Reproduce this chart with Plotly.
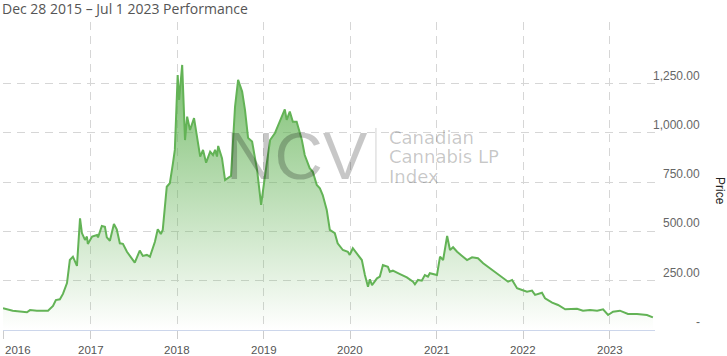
import plotly.graph_objects as go

title_text = "Dec 28 2015 – Jul 1 2023 Performance"

dates = [
    "2015-12-28", "2016-02-07", "2016-04-07", "2016-04-20", "2016-05-19", "2016-07-05", "2016-07-26",
    "2016-08-07", "2016-08-24", "2016-09-06", "2016-09-23", "2016-10-05", "2016-10-18", "2016-11-04",
    "2016-11-17", "2016-11-25", "2016-12-08", "2016-12-16", "2016-12-20",
    "2017-01-07", "2017-01-28", "2017-02-01", "2017-02-17", "2017-03-02", "2017-03-10", "2017-03-23",
    "2017-04-09", "2017-04-21", "2017-05-04", "2017-05-17", "2017-06-03", "2017-06-28", "2017-07-06",
    "2017-07-27", "2017-08-09", "2017-08-26", "2017-09-08", "2017-09-29", "2017-10-11", "2017-10-24",
    "2017-11-01", "2017-11-18", "2017-12-01", "2017-12-14", "2017-12-22",
    "2018-01-03", "2018-01-09", "2018-01-22", "2018-02-03", "2018-02-12", "2018-02-24", "2018-03-13",
    "2018-04-08", "2018-04-20", "2018-05-03", "2018-05-20", "2018-06-01", "2018-06-10", "2018-06-18",
    "2018-06-23", "2018-07-09", "2018-07-22", "2018-08-04", "2018-08-16", "2018-09-02", "2018-09-15",
    "2018-10-02", "2018-10-14", "2018-10-27", "2018-11-13", "2018-12-04", "2018-12-21",
    "2019-01-06", "2019-01-15", "2019-01-28", "2019-02-17", "2019-03-10", "2019-03-31", "2019-04-08",
    "2019-04-21", "2019-05-04", "2019-05-20", "2019-06-11", "2019-06-23", "2019-07-14", "2019-07-27",
    "2019-08-13", "2019-08-26", "2019-09-07", "2019-09-24", "2019-10-07", "2019-10-28", "2019-11-09",
    "2019-12-01", "2019-12-22", "2019-12-30",
    "2020-01-12", "2020-01-29", "2020-02-19", "2020-03-03", "2020-03-16", "2020-03-24", "2020-04-02",
    "2020-04-23", "2020-05-05", "2020-05-18", "2020-06-08", "2020-06-16", "2020-06-29", "2020-07-29",
    "2020-08-27", "2020-09-22", "2020-09-30", "2020-10-13", "2020-10-29", "2020-11-11", "2020-11-24",
    "2020-12-02", "2020-12-23",
    "2021-01-01", "2021-01-14", "2021-01-27", "2021-02-13", "2021-02-25", "2021-03-10", "2021-03-27",
    "2021-04-17", "2021-05-08", "2021-05-29", "2021-06-23", "2021-07-15", "2021-08-13", "2021-09-12",
    "2021-10-07", "2021-10-28", "2021-11-14", "2021-12-05", "2021-12-26",
    "2022-01-16", "2022-02-06", "2022-02-19", "2022-03-20", "2022-04-02", "2022-05-02", "2022-05-27",
    "2022-06-26", "2022-08-15", "2022-09-09", "2022-10-09", "2022-11-08", "2022-12-03", "2022-12-24",
    "2023-01-14", "2023-02-12", "2023-02-25", "2023-03-18", "2023-04-25", "2023-06-06", "2023-07-01",
]

prices = [
    110, 98, 90, 101, 98, 98, 122, 152, 156, 183, 238, 355, 372, 325, 567, 492, 457, 474, 437,
    474, 482, 470, 528, 524, 470, 453, 538, 511, 440, 437, 397, 355, 342, 403, 376, 381, 372, 448,
    511, 487, 508, 727, 745, 846, 914,
    1294, 1167, 1345, 964, 1083, 1015, 1075, 880, 914, 849, 905, 888, 914, 880, 934, 872, 761, 770,
    782, 1133, 1269, 1210, 1117, 975, 956, 812, 635,
    778, 863, 964, 998, 1057, 1120, 1066, 1108, 1057, 1057, 964, 888, 821, 803, 736, 719, 685, 609,
    508, 491, 440, 406, 397, 381,
    415, 389, 355, 279, 220, 257, 228, 262, 271, 330, 321, 296, 301, 284, 267, 245, 232, 254, 250,
    279, 271, 288, 279,
    279, 372, 355, 477, 406, 420, 397, 376, 355, 369, 364, 339, 313, 288, 262, 245, 254, 212, 203,
    194, 200, 178, 189, 161, 139, 127, 105, 108, 98, 102, 98, 105, 76,
    93, 98, 93, 81, 81, 76, 64,
]

year_ticks = ["2016-01-01", "2017-01-01", "2018-01-01", "2019-01-01", "2020-01-01",
              "2021-01-01", "2022-01-01", "2023-01-01"]
year_labels = ["2016", "2017", "2018", "2019", "2020", "2021", "2022", "2023"]

price_ticks = [0, 250, 500, 750, 1000, 1250]
price_labels = ["-", "250.00", "500.00", "750.00", "1,000.00", "1,250.00"]

y_title = "Price"
logo_big = "NCV"
logo_lines = ["Canadian", "Cannabis LP", "Index"]

LINE = "#63b356"
GRID = "#d6d6d6"
TICKFONT = "Liberation Sans, Arial, sans-serif"

fig = go.Figure()
fig.add_trace(go.Scatter(
    x=dates, y=prices, mode="lines",
    line=dict(color=LINE, width=2),
    fill="tozeroy",
    fillgradient=dict(
        type="vertical",
        colorscale=[[0, "rgba(99,179,86,0.0)"], [1, "rgba(99,179,86,0.85)"]],
        start=0, stop=1345,
    ),
    hoverinfo="skip",
    showlegend=False,
))

annotations = []
# title
annotations.append(dict(
    x=0, xref="paper", y=1, yref="paper", text=title_text, showarrow=False,
    xanchor="left", yanchor="middle", xshift=-3, yshift=14,
    font=dict(family="Open Sans, sans-serif", size=14, color="#555555"),
))

# price labels (right-aligned, sitting above their grid lines)
for v, t in zip(price_ticks, price_labels):
    annotations.append(dict(
        x=1, xref="paper", y=v, yref="y", text=t, showarrow=False,
        xanchor="right", yanchor="middle", xshift=47, yshift=8,
        font=dict(family=TICKFONT, size=12, color="#666666"),
    ))

# year labels
for i, (d, t) in enumerate(zip(year_ticks, year_labels)):
    annotations.append(dict(
        x=d, xref="x", y=0, yref="paper", text=t, showarrow=False,
        xanchor="left" if i == 0 else "center", yanchor="middle",
        xshift=-1 if i == 0 else 0, yshift=-20,
        font=dict(family=TICKFONT, size=11.5, color="#555555"),
    ))

annotations.append(dict(
    x=1, xref="paper", y=0.5, yref="paper", text=y_title, showarrow=False,
    textangle=90, xanchor="center", yanchor="middle", xshift=65, yshift=-15,
    font=dict(family=TICKFONT, size=12, color="#222222"),
))

# watermark logo
wm = "rgba(0,0,0,0.22)"
annotations.append(dict(
    x=0.4515, xref="paper", y=0.565, yref="paper", text=logo_big, showarrow=False,
    xanchor="center", yanchor="middle",
    font=dict(family="Liberation Sans, Arial, sans-serif", size=67, color=wm),
))
for line_txt, ypos in zip(logo_lines, [0.625, 0.562, 0.50]):
    annotations.append(dict(
        x=0.5885, xref="paper", y=ypos, yref="paper", text=line_txt, showarrow=False,
        xanchor="left", yanchor="middle",
        font=dict(family="DejaVu Sans, Verdana, sans-serif", size=18, color=wm),
    ))

fig.update_layout(
    width=727, height=356,
    margin=dict(l=3, r=72, t=22, b=26, autoexpand=False),
    paper_bgcolor="white", plot_bgcolor="white",
    xaxis=dict(
        type="date", range=["2015-12-28", "2023-07-10"],
        tickvals=year_ticks, showticklabels=False,
        showgrid=True, gridcolor=GRID, griddash="8px,6px", gridwidth=1,
        showline=True, linecolor="#ccd6eb", linewidth=1,
        ticks="outside", ticklen=8, tickcolor="#cccccc", tickwidth=1,
        zeroline=False, automargin=False, fixedrange=True,
    ),
    yaxis=dict(
        range=[0, 1563], tickvals=price_ticks[1:], showticklabels=False,
        showgrid=True, gridcolor=GRID, griddash="8px,6px", gridwidth=1,
        zeroline=False, showline=False, automargin=False, fixedrange=True,
    ),
    annotations=annotations,
    shapes=[dict(
        type="line", xref="paper", yref="paper",
        x0=0.572, x1=0.572, y0=0.477, y1=0.656,
        line=dict(color="rgba(0,0,0,0.18)", width=1),
    )],
)

fig.write_html(
    "out.html",
    config={"displayModeBar": False, "staticPlot": True},
    post_script="document.body.style.margin='0';document.body.style.overflow='hidden';",
)
